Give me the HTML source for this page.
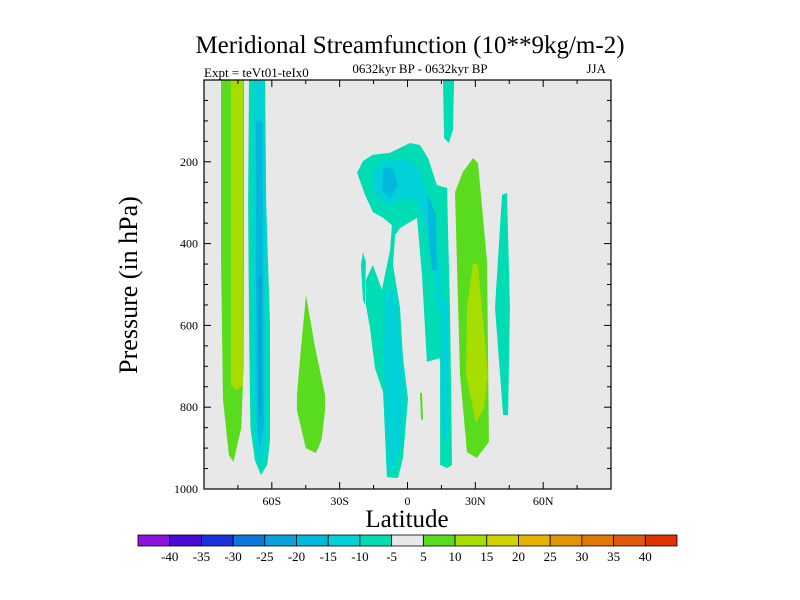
<!DOCTYPE html>
<html><head><meta charset="utf-8">
<style>
html,body{margin:0;padding:0;background:#fff;}
svg{display:block;font-family:"Liberation Serif",serif;}
</style></head>
<body>
<svg id="chart" width="800" height="600" viewBox="0 0 800 600">
<text x="410" y="53" font-size="25" text-anchor="middle">Meridional Streamfunction (10**9kg/m-2)</text>
<text x="204" y="77" font-size="13">Expt = teVt01-teIx0</text>
<text x="420" y="73" font-size="13" text-anchor="middle">0632kyr BP - 0632kyr BP</text>
<text x="606" y="73" font-size="13" text-anchor="end">JJA</text>
<text transform="translate(137,285) rotate(-90)" font-size="26" text-anchor="middle">Pressure (in hPa)</text>
<text x="407" y="527" font-size="25" text-anchor="middle">Latitude</text>
<g id="plot"></g>
<g id="colorbar"></g>
</svg>
<script>
const latTicks=[-60,-30,0,30,60];
const latTickLabels=["60S","30S","0","30N","60N"];
const presTicks=[200,400,600,800,1000];
const cbLevels=[-40,-35,-30,-25,-20,-15,-10,-5,5,10,15,20,25,30,35,40];
const cbColors=["#8c14dc","#4a0ad8","#1e32dc","#0a78dc","#0aa0dc","#00b9dc","#00d2d8","#00dcb4","#e8e8e8","#5adc1e","#a6dc00","#d2d200","#e6b400","#e09600","#e07800","#e05a0a","#e03200"];
// contour regions: level value + polygon in [lat, hPa]
const regionLevels=[7,12,-7,-12,-17,-22,7,-7,-7,-12,-12,-12,-17,-17,7,7,12,-7,-7];
const regionShapes=[
[[-82.5,0],[-72.3,0],[-72.3,435],[-72.5,700],[-73.5,850],[-77,934],[-79,917],[-81.6,782],[-82.5,435]],
[[-78.1,0],[-72.8,0],[-72.8,746],[-75.5,760],[-78.1,746]],
[[-70.1,0],[-63,0],[-62.5,300],[-60.8,600],[-60.8,880],[-62,940],[-64.8,966],[-67.5,930],[-69.5,850],[-70.1,600],[-70.5,300]],
[[-68.3,0],[-63.5,0],[-63,400],[-62.5,800],[-63.5,920],[-65.5,940],[-67.5,880],[-68.3,600]],
[[-67,100],[-64,100],[-63.8,500],[-63.5,850],[-65.5,900],[-66.5,850],[-67,500]],
[[-65.9,480],[-64.6,480],[-64.5,800],[-65.2,830],[-65.9,780]],
[[-44.9,526],[-41,650],[-36.5,770],[-36.5,807],[-38,880],[-40.5,912],[-45,900],[-48.9,807],[-48.9,770],[-47,650]],
[[-22.3,227],[-19.7,198],[-15.3,183],[-7.7,178],[1.1,154],[5.5,159],[9.1,191],[13,257],[17.5,264],[17.9,367],[18.8,557],[19.7,941],[17.5,949],[14.4,941],[14.4,680],[8.6,689],[6.4,477],[4.2,337],[-3.3,362],[-5.5,379],[-6.4,452],[-3.3,557],[-2,680],[0.2,778],[-2,924],[-4.2,973],[-9.1,971],[-10.8,763],[-14.4,704],[-16.6,606],[-18.4,550],[-18.4,489],[-15.3,452],[-11.3,513],[-7.7,416],[-6.9,355],[-10.8,337],[-15.3,323],[-18.8,281]],
[[-20.6,452],[-19.7,421],[-18.4,445],[-18.8,550],[-19.7,538]],
[[-15.7,220],[-10,196],[1.1,196],[5.5,220],[10,306],[14.4,465],[15.7,562],[13,562],[11.3,416],[7.7,355],[3.3,293],[-3.3,293],[-8.6,306],[-14.4,281]],
[[-10,518],[-5.5,513],[-3.3,636],[-1.1,782],[-3.3,905],[-6.4,954],[-8.6,941],[-10,782],[-10.8,636]],
[[14.4,538],[17.5,538],[17.9,782],[17.5,880],[15.7,880],[14.8,734]],
[[-10.8,215],[-6.4,215],[-4.2,257],[-7.7,289],[-11.3,269]],
[[9.1,281],[12.6,330],[13,465],[10.8,465],[9.1,367]],
[[5.5,765],[6.4,765],[6.9,831],[6,831]],
[[21,274],[24.5,225],[29,191],[31.2,203],[35.2,445],[36,885],[30.7,924],[26.3,910],[23.2,721]],
[[29,447],[31.2,452],[35.6,721],[33.8,802],[30.3,839],[25.9,721],[26.3,557]],
[[41.8,281],[44,276],[45.3,557],[44.5,819],[42.3,819],[38.7,557]],
[[15.7,0],[20.6,0],[20.1,122],[18.3,154],[16.2,142]]
];
const NS="http://www.w3.org/2000/svg";
const X0=204,X1=611,Y0=80,Y1=489;
const xs=lat=>X0+(lat+90)/180*(X1-X0);
const ys=p=>Y0+p/1000*(Y1-Y0);
function mk(tag,attrs,parent){const e=document.createElementNS(NS,tag);for(const k in attrs)e.setAttribute(k,attrs[k]);parent.appendChild(e);return e;}
function colorFor(v){
  let i=0;while(i<cbLevels.length&&v>cbLevels[i])i++;
  return cbColors[i];
}
const plot=document.getElementById('plot');
const bg=mk('rect',{x:X0,y:Y0,width:X1-X0,height:Y1-Y0,fill:'#e8e8e8'},plot);


regionShapes.forEach((shape,i)=>{
  const pts=shape.map(d=>xs(d[0]).toFixed(1)+','+ys(d[1]).toFixed(1)).join(' ');
  const pg=mk('polygon',{points:pts,fill:colorFor(regionLevels[i])},plot);
  
  
});
const frame=mk('rect',{x:X0,y:Y0,width:X1-X0,height:Y1-Y0,fill:'none',stroke:'#000','stroke-width':1.2},plot);


for(let lat=-90;lat<=90;lat+=15){
  const x=xs(lat),len=(lat%30===0)?7:4;
  mk('line',{x1:x,y1:Y1,x2:x,y2:Y1-len,stroke:'#000'},plot);
  mk('line',{x1:x,y1:Y0,x2:x,y2:Y0+len,stroke:'#000'},plot);
}
latTicks.forEach((lat,i)=>{
  const t=mk('text',{x:xs(lat),y:Y1+16,'font-size':12,'text-anchor':'middle'},plot);
  t.textContent=latTickLabels[i];
  
  
});
for(let p=50;p<1000;p+=50){
  const y=ys(p),len=(p%200===0)?7:4;
  mk('line',{x1:X0,y1:y,x2:X0+len,y2:y,stroke:'#000'},plot);
  mk('line',{x1:X1,y1:y,x2:X1-len,y2:y,stroke:'#000'},plot);
}
presTicks.forEach(p=>{
  const t=mk('text',{x:X0-6,y:ys(p)+4,'font-size':12,'text-anchor':'end'},plot);
  t.textContent=p;
  
  
});
const cb=document.getElementById('colorbar');
const CX0=138,CX1=677,CY=535,CH=11,bw=(CX1-CX0)/cbColors.length;
cbColors.forEach((c,i)=>{
  const r=mk('rect',{x:CX0+i*bw,y:CY,width:bw,height:CH,fill:c,stroke:'#000','stroke-width':0.8},cb);
  
  
});
cbLevels.forEach((v,i)=>{
  const t=mk('text',{x:CX0+(i+1)*bw,y:CY+26,'font-size':13,'text-anchor':'middle'},cb);
  t.textContent=v;
  
  
});
</script>
</body></html>
